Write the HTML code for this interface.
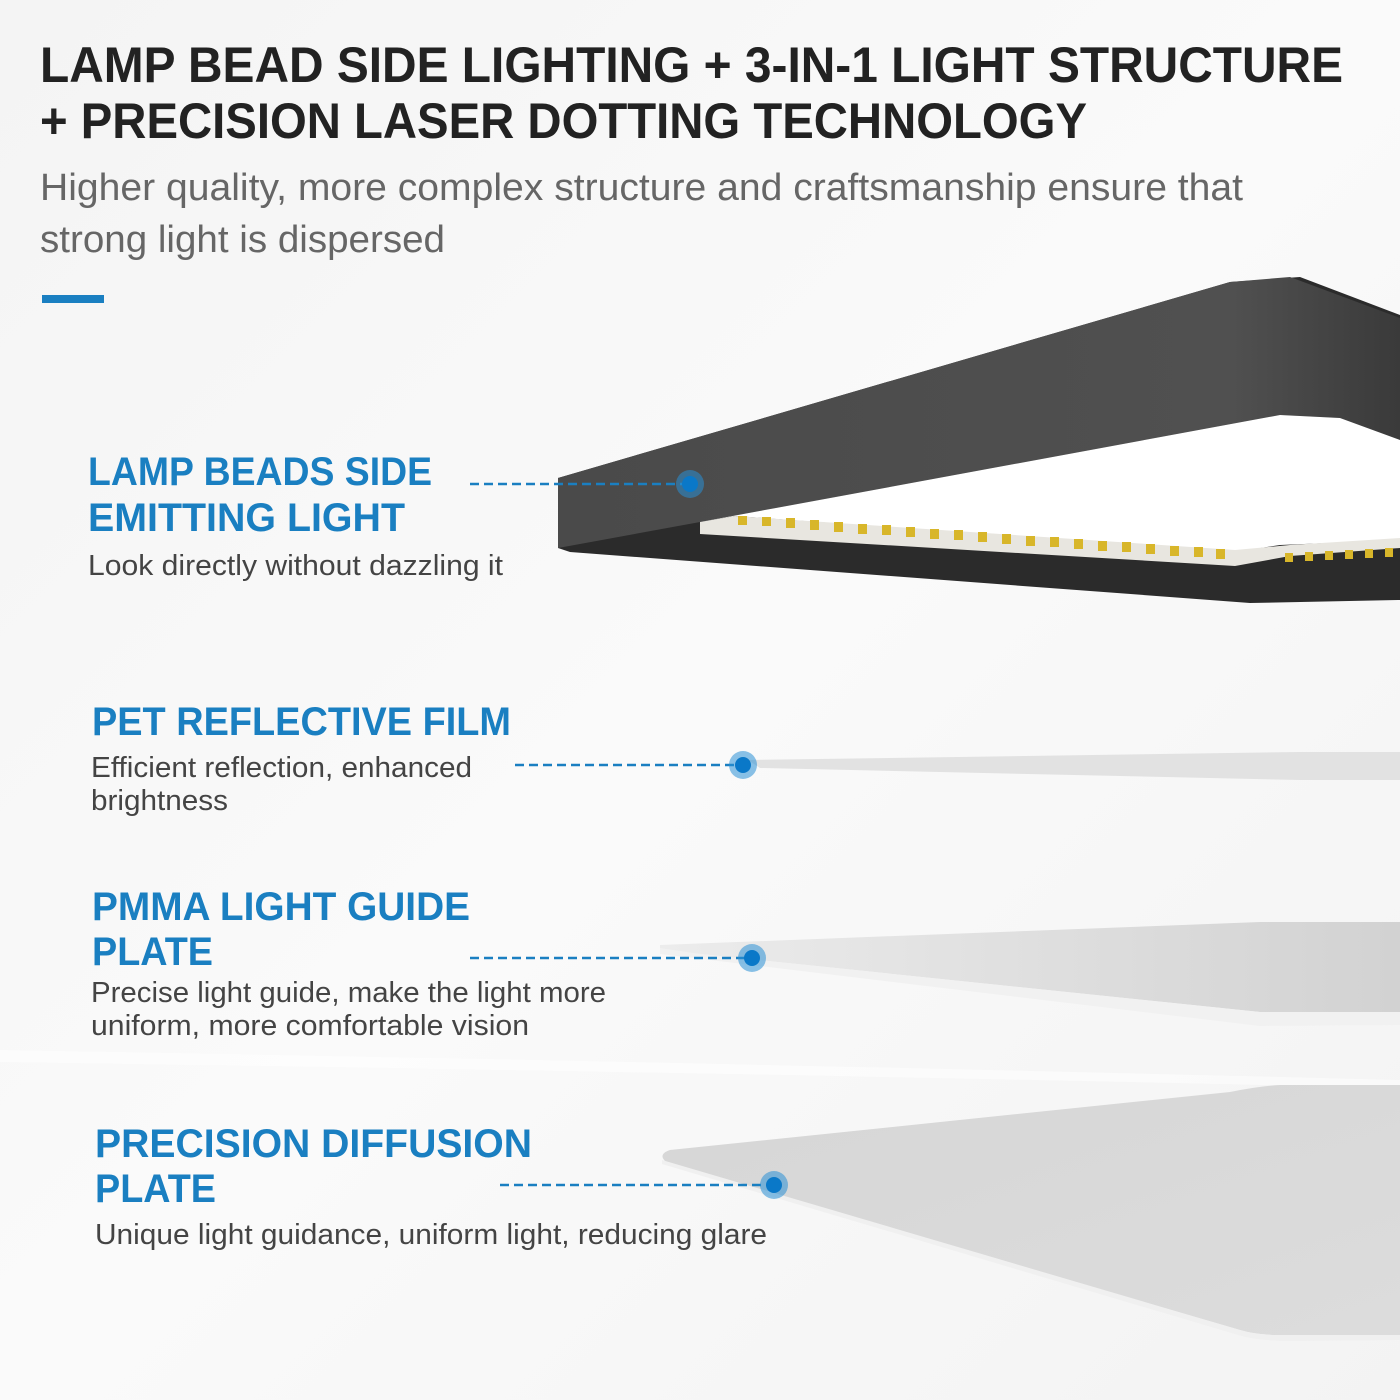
<!DOCTYPE html>
<html><head><meta charset="utf-8"><style>
html,body{margin:0;padding:0;width:1400px;height:1400px;overflow:hidden;background:#f7f7f7}
svg{display:block}
</style></head><body>
<svg width="1400" height="1400" viewBox="0 0 1400 1400" xmlns="http://www.w3.org/2000/svg">
<defs>
<linearGradient id="bg" x1="0" y1="0" x2="1" y2="1">
<stop offset="0" stop-color="#f4f4f4"/><stop offset="0.5" stop-color="#fafafa"/><stop offset="1" stop-color="#f3f3f3"/></linearGradient>
<linearGradient id="top" x1="0" y1="0" x2="1" y2="0">
<stop offset="0" stop-color="#4a4a4a"/><stop offset="0.8" stop-color="#505050"/><stop offset="1" stop-color="#3a3a3a"/></linearGradient>
<linearGradient id="lgp" x1="0" y1="0" x2="1" y2="0">
<stop offset="0" stop-color="#ececec"/><stop offset="1" stop-color="#d2d2d2"/></linearGradient>
<linearGradient id="dif" x1="0" y1="0" x2="1" y2="1">
<stop offset="0" stop-color="#d6d6d6"/><stop offset="1" stop-color="#dcdcdc"/></linearGradient>
</defs>
<rect width="1400" height="1400" fill="url(#bg)"/>
<path d="M0,1050 Q700,1062 1400,1080 L1400,1088 Q700,1072 0,1062 Z" fill="#ffffff" opacity="0.5"/>

<!-- lamp frame -->
<polygon points="558,478 1230,282 1300,277 1400,315 1400,600 1250,603 570,552 558,548" fill="#2b2b2b"/>
<polygon points="558,478 1230,282 1290,277 1400,318 1400,440 1340,418 1280,415 700,522 558,548" fill="url(#top)"/>
<polygon points="700,522 1280,415 1340,418 1400,440 1400,540 1280,545 1235,552 735,516" fill="#ffffff"/>
<polygon points="700,522 735,516 1235,550 1290,545 1400,538 1400,548 1290,556 1235,566 700,534" fill="#e8e6e0"/>
<g fill="#d8b62a">
<rect x="738" y="516" width="9" height="9"/><rect x="762" y="517" width="9" height="9"/><rect x="786" y="518" width="9" height="10"/><rect x="810" y="520" width="9" height="10"/><rect x="834" y="522" width="9" height="10"/><rect x="858" y="524" width="9" height="10"/><rect x="882" y="525" width="9" height="10"/><rect x="906" y="527" width="9" height="10"/><rect x="930" y="529" width="9" height="10"/><rect x="954" y="530" width="9" height="10"/><rect x="978" y="532" width="9" height="10"/><rect x="1002" y="534" width="9" height="10"/><rect x="1026" y="536" width="9" height="10"/><rect x="1050" y="537" width="9" height="10"/><rect x="1074" y="539" width="9" height="10"/><rect x="1098" y="541" width="9" height="10"/><rect x="1122" y="542" width="9" height="10"/><rect x="1146" y="544" width="9" height="10"/><rect x="1170" y="546" width="9" height="10"/><rect x="1194" y="547" width="9" height="10"/><rect x="1216" y="549" width="9" height="10"/>
<rect x="1285" y="553" width="8" height="9"/><rect x="1305" y="552" width="8" height="9"/><rect x="1325" y="551" width="8" height="9"/><rect x="1345" y="550" width="8" height="9"/><rect x="1365" y="549" width="8" height="9"/><rect x="1385" y="548" width="8" height="9"/>
</g>

<!-- PET film -->
<polygon points="748,760 1300,752 1400,752 1400,780 1300,780 760,768" fill="#e2e2e2"/>
<!-- light guide plate -->
<polygon points="660,945 1260,922 1400,922 1400,1012 1260,1012 700,954 660,950" fill="url(#lgp)"/>
<polygon points="660,948 700,954 1260,1012 1400,1012 1400,1025 1260,1026 660,954" fill="#f1f1f1"/>
<!-- diffusion plate -->
<path d="M670,1150 Q655,1155 670,1165 L1240,1330 Q1260,1336 1290,1335 L1400,1335 L1400,1085 L1280,1085 Q1260,1086 1230,1092 Z" fill="url(#dif)"/>
<path d="M662,1160 L1240,1330 Q1260,1336 1290,1335 L1400,1335 L1400,1340 L1290,1341 Q1258,1341 1238,1335 L662,1164 Z" fill="#f0f0f0"/>

<!-- connectors -->
<g stroke="#1a7fc1" stroke-width="2.5" stroke-dasharray="9,5" fill="none">
<line x1="470" y1="484" x2="690" y2="484"/>
<line x1="515" y1="765" x2="743" y2="765"/>
<line x1="470" y1="958" x2="752" y2="958"/>
<line x1="500" y1="1185" x2="774" y2="1185"/>
</g>
<g>
<circle cx="690" cy="484" r="14" fill="#2a8fd6" opacity="0.55"/><circle cx="690" cy="484" r="8" fill="#0a78c8"/>
<circle cx="743" cy="765" r="14" fill="#2a8fd6" opacity="0.55"/><circle cx="743" cy="765" r="8" fill="#0a78c8"/>
<circle cx="752" cy="958" r="14" fill="#2a8fd6" opacity="0.55"/><circle cx="752" cy="958" r="8" fill="#0a78c8"/>
<circle cx="774" cy="1185" r="14" fill="#2a8fd6" opacity="0.55"/><circle cx="774" cy="1185" r="8" fill="#0a78c8"/>
</g>

<rect x="42" y="295" width="62" height="8" fill="#1a7fc1"/>

<g font-family="Liberation Sans, sans-serif">
<text x="40" y="82" font-size="50" font-weight="bold" fill="#222" textLength="1303" lengthAdjust="spacingAndGlyphs">LAMP BEAD SIDE LIGHTING + 3-IN-1 LIGHT STRUCTURE</text>
<text x="40" y="138" font-size="50" font-weight="bold" fill="#222" textLength="1047" lengthAdjust="spacingAndGlyphs">+ PRECISION LASER DOTTING TECHNOLOGY</text>
<text x="40" y="200" font-size="38" fill="#666" textLength="1203" lengthAdjust="spacingAndGlyphs">Higher quality, more complex structure and craftsmanship ensure that</text>
<text x="40" y="252" font-size="38" fill="#666" textLength="405" lengthAdjust="spacingAndGlyphs">strong light is dispersed</text>

<g font-size="40" font-weight="bold" fill="#1a7fc1">
<text x="88" y="485" textLength="344" lengthAdjust="spacingAndGlyphs">LAMP BEADS SIDE</text>
<text x="88" y="531" textLength="317" lengthAdjust="spacingAndGlyphs">EMITTING LIGHT</text>
<text x="92" y="735" textLength="419" lengthAdjust="spacingAndGlyphs">PET REFLECTIVE FILM</text>
<text x="92" y="920" textLength="378" lengthAdjust="spacingAndGlyphs">PMMA LIGHT GUIDE</text>
<text x="92" y="965" textLength="121" lengthAdjust="spacingAndGlyphs">PLATE</text>
<text x="95" y="1157" textLength="437" lengthAdjust="spacingAndGlyphs">PRECISION DIFFUSION</text>
<text x="95" y="1202" textLength="121" lengthAdjust="spacingAndGlyphs">PLATE</text>
</g>
<g font-size="29" fill="#444">
<text x="88" y="575" textLength="415" lengthAdjust="spacingAndGlyphs">Look directly without dazzling it</text>
<text x="91" y="777" textLength="381" lengthAdjust="spacingAndGlyphs">Efficient reflection, enhanced</text>
<text x="91" y="810" textLength="137" lengthAdjust="spacingAndGlyphs">brightness</text>
<text x="91" y="1002" textLength="515" lengthAdjust="spacingAndGlyphs">Precise light guide, make the light more</text>
<text x="91" y="1035" textLength="438" lengthAdjust="spacingAndGlyphs">uniform, more comfortable vision</text>
<text x="95" y="1244" textLength="672" lengthAdjust="spacingAndGlyphs">Unique light guidance, uniform light, reducing glare</text>
</g>
</g>
</svg>
</body></html>
